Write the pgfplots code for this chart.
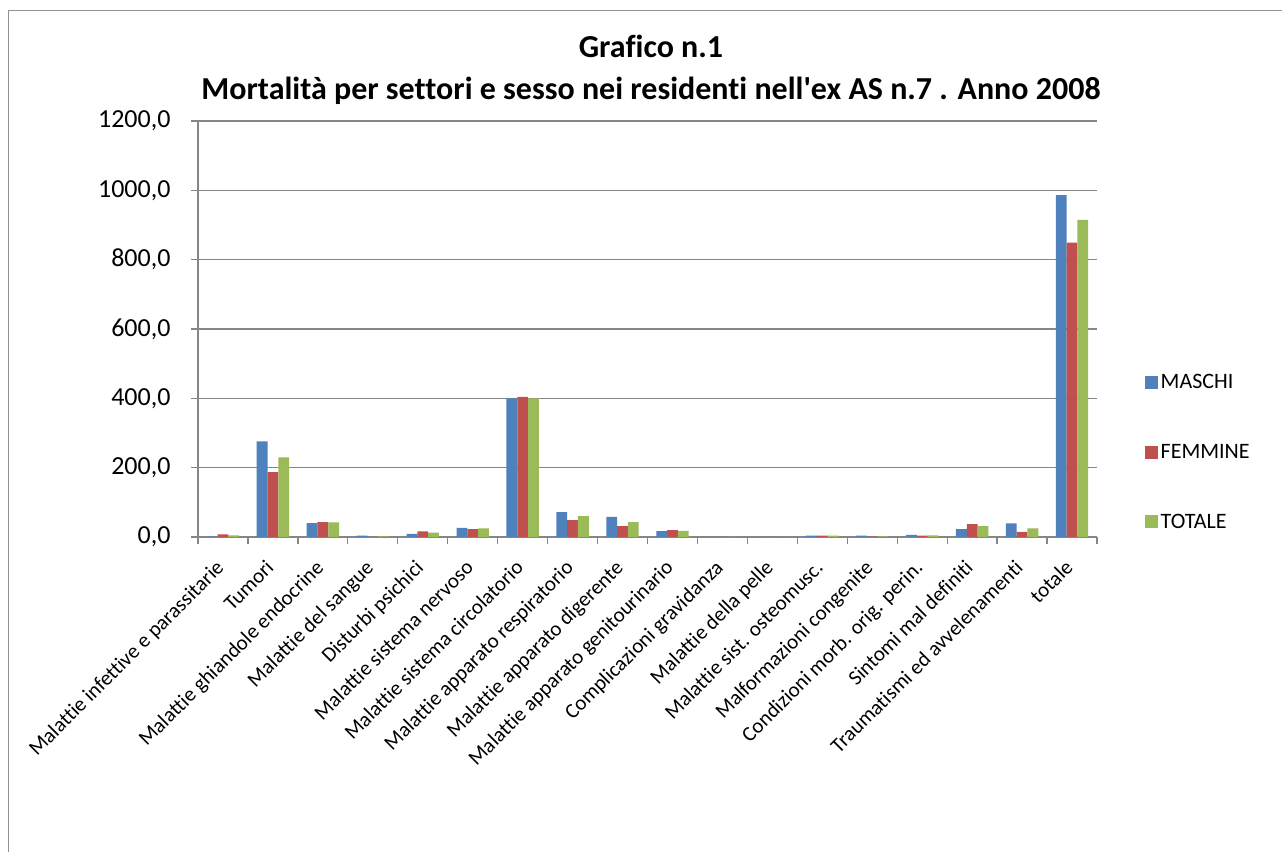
\documentclass[border=0pt]{standalone}
\usepackage{fontspec}
\setmainfont{Carlito}[Ligatures={TeXOff,CommonOff}]
\usepackage{pgfplots}
\usepackage{pgfplotstable}
\pgfplotsset{compat=1.18}
\definecolor{cM}{HTML}{4F81BD}
\definecolor{cF}{HTML}{C0504D}
\definecolor{cT}{HTML}{9BBB59}
\definecolor{gr}{HTML}{868686}
\pgfplotstableread{
x M F T
0 1 7.7 4.5
1 276 187 230
2 40 43 42
3 4 0.5 2
4 9 16 12.5
5 26 23 25
6 400 404 400
7 72 49 60
8 58 31 43
9 17 20 18
10 0 0 0
11 0 0 0
12 4 4 4
13 4 1 2
14 6 4 5
15 23 37 31
16 39 15 25
17 986 849 915
}\datatable
\begin{document}
\begin{tikzpicture}[x=1bp,y=1bp]
\useasboundingbox (0,0) rectangle (1282,852);
\fill[white] (0,0) rectangle (1282,852);
\draw[gr!90, line width=1.5bp] (8.5,-2) -- (8.5,841.5) -- (1284,841.5);
\node[font=\fontsize{32bp}{36bp}\selectfont\bfseries, anchor=base] at (651,794) {Grafico n.1};
\node[font=\fontsize{32bp}{36bp}\selectfont\bfseries, anchor=base] at (651,752) {Mortalità per settori e sesso nei residenti nell'ex AS n.7 . Anno 2008};
\begin{axis}[
  at={(198bp,315bp)}, anchor=south west,
  scale only axis, width=899bp, height=416bp,
  xmin=-0.5, xmax=17.5, ymin=0, ymax=1200,
  ytick={0,200,...,1200},
  xtick={0,...,17},
  minor xtick={-0.5,0.5,...,17.5},
  xticklabels={Malattie infettive e parassitarie, Tumori, Malattie ghiandole endocrine, Malattie del sangue, Disturbi psichici, Malattie sistema nervoso, Malattie sistema circolatorio, Malattie apparato respiratorio, Malattie apparato digerente, Malattie apparato genitourinario, Complicazioni gravidanza, Malattie della pelle, Malattie sist. osteomusc., Malformazioni congenite, Condizioni morb. orig. perin., Sintomi mal definiti, Traumatismi ed avvelenamenti, totale},
  ybar=0pt, bar width=0.216,
  axis lines*=left,
  axis line style={draw=gr, line width=1.3bp, -},
  ymajorgrids, grid style={draw=gr, line width=1.3bp},
  tick align=outside,
  major tick length=7bp, minor tick length=7bp,
  major x tick style={draw=none},
  minor x tick style={draw=gr, line width=1.3bp},
  ytick style={draw=gr, line width=1.3bp},
  /pgf/number format/assume math mode=true,
  yticklabel style={font=\fontsize{26bp}{30bp}\selectfont, xshift=-17bp, /pgf/number format/.cd, fixed, fixed zerofill, precision=1, use comma, 1000 sep={}},
  xticklabel style={font=\fontsize{21bp}{25bp}\selectfont, xshift=2bp, yshift=-25bp, rotate=45, anchor=base east, inner sep=0pt},
  legend style={at={(1.0534,0.204)}, anchor=west, draw=none, fill=none, inner sep=0pt,
    font=\fontsize{22bp}{26bp}\selectfont, row sep=49bp, legend cell align=left,
    nodes={inner sep=2.5bp}},
]
\addplot[fill=cM, draw=none, legend image code/.code={\fill[cM] (0bp,-6.5bp) rectangle (13bp,6.5bp);}] table[x=x,y=M]{\datatable};
\addplot[fill=cF, draw=none, legend image code/.code={\fill[cF] (0bp,-6.5bp) rectangle (13bp,6.5bp);}] table[x=x,y=F]{\datatable};
\addplot[fill=cT, draw=none, legend image code/.code={\fill[cT] (0bp,-6.5bp) rectangle (13bp,6.5bp);}] table[x=x,y=T]{\datatable};
\legend{MASCHI,FEMMINE,TOTALE}
\end{axis}
\end{tikzpicture}
\end{document}
